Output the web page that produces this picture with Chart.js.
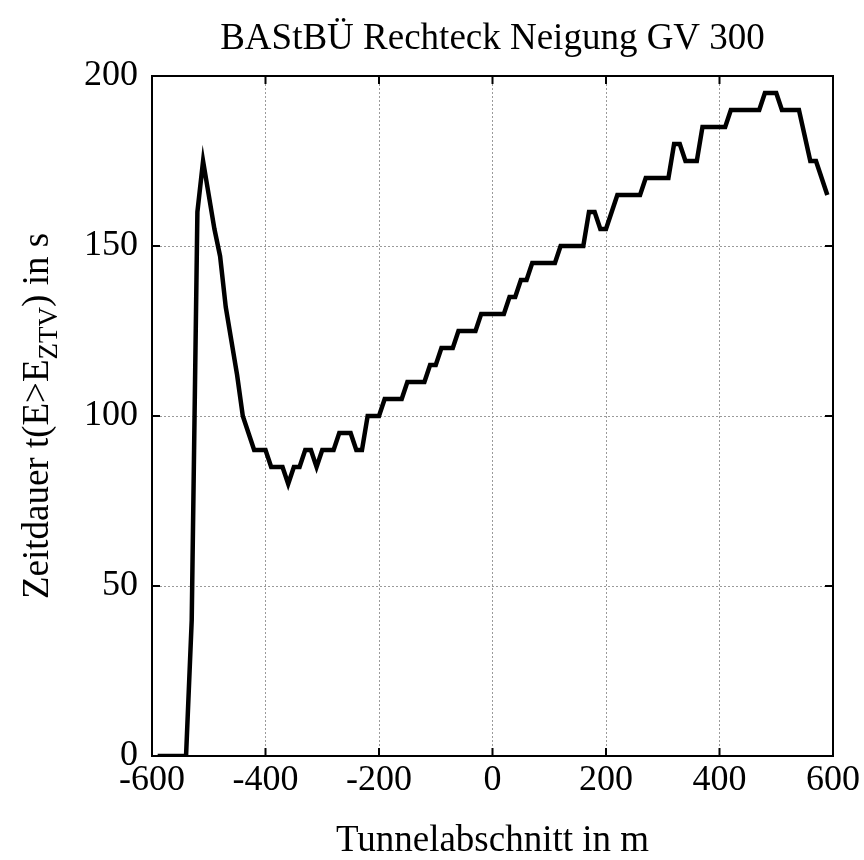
<!DOCTYPE html>
<html><head><meta charset="utf-8">
<script src="https://cdn.jsdelivr.net/npm/chart.js@4"></script>
<style>html,body{margin:0;padding:0;background:#fff}</style>
</head><body>
<canvas id="c" width="864" height="860" style="width:864px;height:860px;display:block"></canvas>
<script>
const tunnelPositionM = [-590,-540,-530,-520,-510,-500,-490,-480,-470,-460,-450,-440,-430,-420,-400,-390,-370,-360,-350,-340,-330,-320,-310,-300,-280,-270,-250,-240,-230,-220,-200,-190,-160,-150,-120,-110,-100,-90,-70,-60,-30,-20,20,30,40,50,60,70,110,120,160,170,180,190,200,220,260,270,310,320,330,340,360,370,410,420,470,480,500,510,540,560,570,590];
const zeitdauerS = [0,0,40,160,175,165,155,147,132,122,112,100,95,90,90,85,85,80,85,85,90,90,85,90,90,95,95,90,90,100,100,105,105,110,110,115,115,120,120,125,125,130,130,135,135,140,140,145,145,150,150,160,160,155,155,165,165,170,170,180,180,175,175,185,185,190,190,195,195,190,190,175,175,165];
const xTickValues = [-600,-400,-200,0,200,400,600];
const yTickValues = [0,50,100,150,200];
const chartTitle = 'BAStBÜ Rechteck Neigung GV 300';
const xAxisTitle = 'Tunnelabschnitt in m';
const yAxisTitleParts = ['Zeitdauer t(E>E', 'ZTV', ') in s'];

const FONT = '"Liberation Serif", "Times New Roman", serif';

const framePlugin = {
  id: 'frame',
  afterDraw(chart) {
    const ctx = chart.ctx, a = chart.chartArea;
    const xs = chart.scales.x, ys = chart.scales.y;
    ctx.save();
    ctx.strokeStyle = '#000';
    ctx.lineWidth = 2;
    ctx.strokeRect(a.left, a.top, a.right - a.left, a.bottom - a.top);
    const tl = 8;
    ctx.beginPath();
    xTickValues.forEach(v => {
      const px = xs.getPixelForValue(v);
      ctx.moveTo(px, a.bottom); ctx.lineTo(px, a.bottom - tl);
      ctx.moveTo(px, a.top); ctx.lineTo(px, a.top + tl);
    });
    yTickValues.forEach(v => {
      const py = ys.getPixelForValue(v);
      ctx.moveTo(a.left, py); ctx.lineTo(a.left + tl, py);
      ctx.moveTo(a.right, py); ctx.lineTo(a.right - tl, py);
    });
    ctx.stroke();

    ctx.fillStyle = '#000';
    const cx = (a.left + a.right) / 2;
    ctx.textAlign = 'center';
    ctx.textBaseline = 'alphabetic';
    ctx.font = '37px ' + FONT;
    ctx.fillText(chartTitle, cx, 49);
    ctx.fillText(xAxisTitle, cx, 851);

    // y axis title with subscript
    ctx.translate(48, (a.top + a.bottom) / 2);
    ctx.rotate(-Math.PI / 2);
    const mainFont = '37px ' + FONT, subFont = '27px ' + FONT;
    ctx.font = mainFont; const w1 = ctx.measureText(yAxisTitleParts[0]).width;
    const w3 = ctx.measureText(yAxisTitleParts[2]).width;
    ctx.font = subFont; const w2 = ctx.measureText(yAxisTitleParts[1]).width;
    let x0 = -(w1 + w2 + w3) / 2;
    ctx.textAlign = 'left';
    ctx.font = mainFont; ctx.fillText(yAxisTitleParts[0], x0, 0);
    ctx.font = subFont; ctx.fillText(yAxisTitleParts[1], x0 + w1, 9);
    ctx.font = mainFont; ctx.fillText(yAxisTitleParts[2], x0 + w1 + w2, 0);
    ctx.restore();
  }
};

new Chart(document.getElementById('c'), {
  type: 'scatter',
  data: {
    datasets: [{
      data: tunnelPositionM.map((x, i) => ({ x, y: zeitdauerS[i] })),
      showLine: true,
      borderColor: '#000',
      borderWidth: 4.5,
      pointRadius: 0,
      tension: 0,
      fill: false
    }]
  },
  options: {
    responsive: false,
    animation: false,
    layout: { padding: { left: 0, right: 31, top: 76, bottom: 0 } },
    plugins: { legend: { display: false }, title: { display: false }, tooltip: { enabled: false } },
    scales: {
      x: {
        type: 'linear', min: -600, max: 600,
        afterBuildTicks: s => { s.ticks = xTickValues.map(v => ({ value: v })); },
        afterFit: s => { s.height = 104; },
        grid: { color: '#9a9a9a', lineWidth: 1, drawTicks: false },
        border: { display: false, dash: [2, 2] },
        ticks: { color: '#000', font: { family: FONT, size: 36 }, padding: 3, maxRotation: 0, autoSkip: false }
      },
      y: {
        type: 'linear', min: 0, max: 200,
        afterBuildTicks: s => { s.ticks = yTickValues.map(v => ({ value: v })); },
        afterFit: s => { s.width = 152; },
        grid: { color: '#9a9a9a', lineWidth: 1, drawTicks: false },
        border: { display: false, dash: [2, 2] },
        ticks: { color: '#000', font: { family: FONT, size: 36 }, padding: 14, autoSkip: false }
      }
    }
  },
  plugins: [framePlugin]
});
</script>
</body></html>
